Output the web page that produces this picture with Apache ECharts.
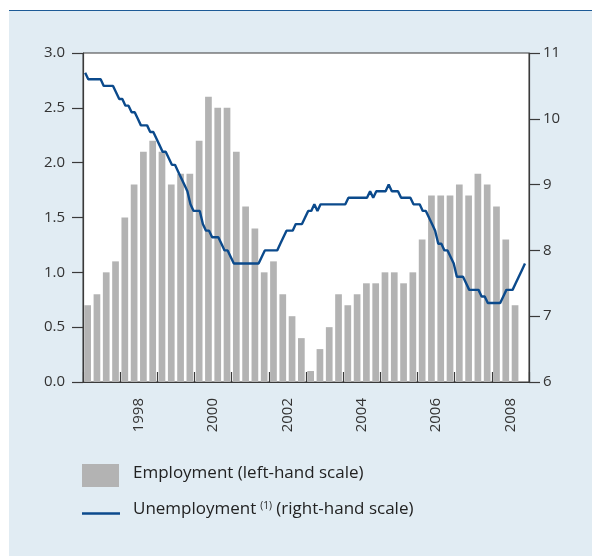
<!DOCTYPE html>
<html>
<head>
<meta charset="utf-8">
<script src="https://cdn.jsdelivr.net/npm/echarts@6/dist/echarts.min.js"></script>
<style>
html,body{margin:0;padding:0;background:#fff;}
#wrap{position:relative;width:592px;height:556px;overflow:hidden;}
#bg{position:absolute;left:9px;top:10px;right:0;bottom:0;background:#e1ecf3;border-top:1.5px solid #1d5a96;}
#chart{position:absolute;left:0;top:0;width:592px;height:556px;}
</style>
</head>
<body>
<div id="wrap"><div id="bg"></div><div id="chart"></div></div>
<script>
// Start of data: 1997 Q1 (bars, quarterly) and Jan 1997 (line, monthly)
var startYear = 1997;
var yearLabels = ['1997','1998','1999','2000','2001','2002','2003','2004','2005','2006','2007','2008'];
var leftTicks = [0, 0.5, 1.0, 1.5, 2.0, 2.5, 3.0];
var rightTicks = [6, 7, 8, 9, 10, 11];

// Employment, quarterly (left-hand scale)
var employment = [
  0.7,0.8,1.0,1.1,
  1.5,1.8,2.1,2.2,
  2.1,1.8,1.9,1.9,
  2.2,2.6,2.5,2.5,
  2.1,1.6,1.4,1.0,
  1.1,0.8,0.6,0.4,
  0.1,0.3,0.5,0.8,
  0.7,0.8,0.9,0.9,
  1.0,1.0,0.9,1.0,
  1.3,1.7,1.7,1.7,
  1.8,1.7,1.9,1.8,
  1.6,1.3,0.7
];

// Unemployment, monthly (right-hand scale)
var unemployment = [
  10.7,10.6,10.6,10.6,10.6,10.6,10.5,10.5,10.5,10.5,10.4,10.3,
  10.3,10.2,10.2,10.1,10.1,10.0,9.9,9.9,9.9,9.8,9.8,9.7,
  9.6,9.5,9.5,9.4,9.3,9.3,9.2,9.1,9.0,8.9,8.7,8.6,
  8.6,8.6,8.4,8.3,8.3,8.2,8.2,8.2,8.1,8.0,8.0,7.9,
  7.8,7.8,7.8,7.8,7.8,7.8,7.8,7.8,7.8,7.9,8.0,8.0,
  8.0,8.0,8.0,8.1,8.2,8.3,8.3,8.3,8.4,8.4,8.4,8.5,
  8.6,8.6,8.7,8.6,8.7,8.7,8.7,8.7,8.7,8.7,8.7,8.7,
  8.7,8.8,8.8,8.8,8.8,8.8,8.8,8.8,8.9,8.8,8.9,8.9,
  8.9,8.9,9.0,8.9,8.9,8.9,8.8,8.8,8.8,8.8,8.7,8.7,
  8.7,8.6,8.6,8.5,8.4,8.3,8.1,8.1,8.0,8.0,7.9,7.8,
  7.6,7.6,7.6,7.5,7.4,7.4,7.4,7.4,7.3,7.3,7.2,7.2,
  7.2,7.2,7.2,7.3,7.4,7.4,7.4,7.5,7.6,7.7,7.8
];

var barData = employment.map(function(v, i){ return [startYear + (i + 0.5) / 4, v]; });
var lineData = unemployment.map(function(v, i){ return [startYear + (i + 0.7) / 12, v]; });

var FONT = '"Open Sans", "Noto Sans", sans-serif';
var TXT = '#333333';
var AX = '#3a3a3a';

var chart = echarts.init(document.getElementById('chart'), null, {renderer: 'canvas'});
chart.setOption({
  animation: false,
  backgroundColor: 'transparent',
  textStyle: {fontFamily: FONT},
  grid: {
    left: 83, right: 63, top: 53, bottom: 174,
    show: true, backgroundColor: '#ffffff', borderColor: AX, borderWidth: 1
  },
  xAxis: [{
    type: 'value', min: startYear, max: startYear + yearLabels.length, interval: 1,
    position: 'bottom',
    axisLine: {show: true, lineStyle: {color: AX, width: 1.2}},
    axisTick: {show: true, inside: true, length: 10, lineStyle: {color: AX, width: 1.2}},
    axisLabel: {show: false},
    splitLine: {show: false}
  }, {
    type: 'category', data: yearLabels, position: 'bottom', boundaryGap: true,
    axisLine: {show: false}, axisTick: {show: false}, splitLine: {show: false},
    axisLabel: {
      show: true, interval: 0, rotate: 90, margin: 16,
      color: TXT, fontSize: 15, fontFamily: FONT,
      formatter: function(v){ return (parseInt(v, 10) % 2 === 0) ? v : ''; }
    }
  }],
  yAxis: [{
    type: 'value', min: leftTicks[0], max: leftTicks[leftTicks.length - 1], interval: 0.5,
    position: 'left',
    axisLine: {show: true, lineStyle: {color: AX, width: 1.2}},
    axisTick: {show: true, inside: false, length: 11, lineStyle: {color: AX, width: 1.2}},
    axisLabel: {show: true, margin: 18, color: TXT, fontSize: 15, fontFamily: FONT,
      formatter: function(v){ return v.toFixed(1); }},
    splitLine: {show: false}
  }, {
    type: 'value', min: rightTicks[0], max: rightTicks[rightTicks.length - 1], interval: 1,
    position: 'right',
    axisLine: {show: true, lineStyle: {color: AX, width: 1.2}},
    axisTick: {show: true, inside: false, length: 11, lineStyle: {color: AX, width: 1.2}},
    axisLabel: {show: true, margin: 14, color: TXT, fontSize: 15, fontFamily: FONT},
    splitLine: {show: false}
  }],
  series: [{
    name: 'Employment', type: 'bar', xAxisIndex: 0, yAxisIndex: 0,
    data: barData, barWidth: 6.7,
    itemStyle: {color: '#b3b3b3'}, z: 1
  }, {
    name: 'Unemployment', type: 'line', xAxisIndex: 0, yAxisIndex: 1,
    data: lineData, showSymbol: false, symbol: 'none',
    lineStyle: {color: '#0b4a8c', width: 2.4}, z: 3
  }],
  graphic: [
    {type: 'rect', left: 82, top: 464, shape: {width: 37, height: 23}, style: {fill: '#b3b3b3'}},
    {type: 'text', left: 133, top: 465, style: {text: 'Employment (left-hand scale)', fill: '#222', font: '17px ' + FONT}},
    {type: 'line', shape: {x1: 82, y1: 513.5, x2: 120, y2: 513.5}, style: {stroke: '#0b4a8c', lineWidth: 2.4}},
    {type: 'text', left: 133, top: 501, style: {
      text: '{a|Unemployment}{s|(1)}{a| (right-hand scale)}',
      rich: {
        a: {fill: '#222', fontSize: 17, fontFamily: FONT},
        s: {fill: '#222', fontSize: 10, fontFamily: FONT, verticalAlign: 'top', padding: [0, 0, 7, 4]}
      }
    }}
  ]
});
</script>
</body>
</html>
